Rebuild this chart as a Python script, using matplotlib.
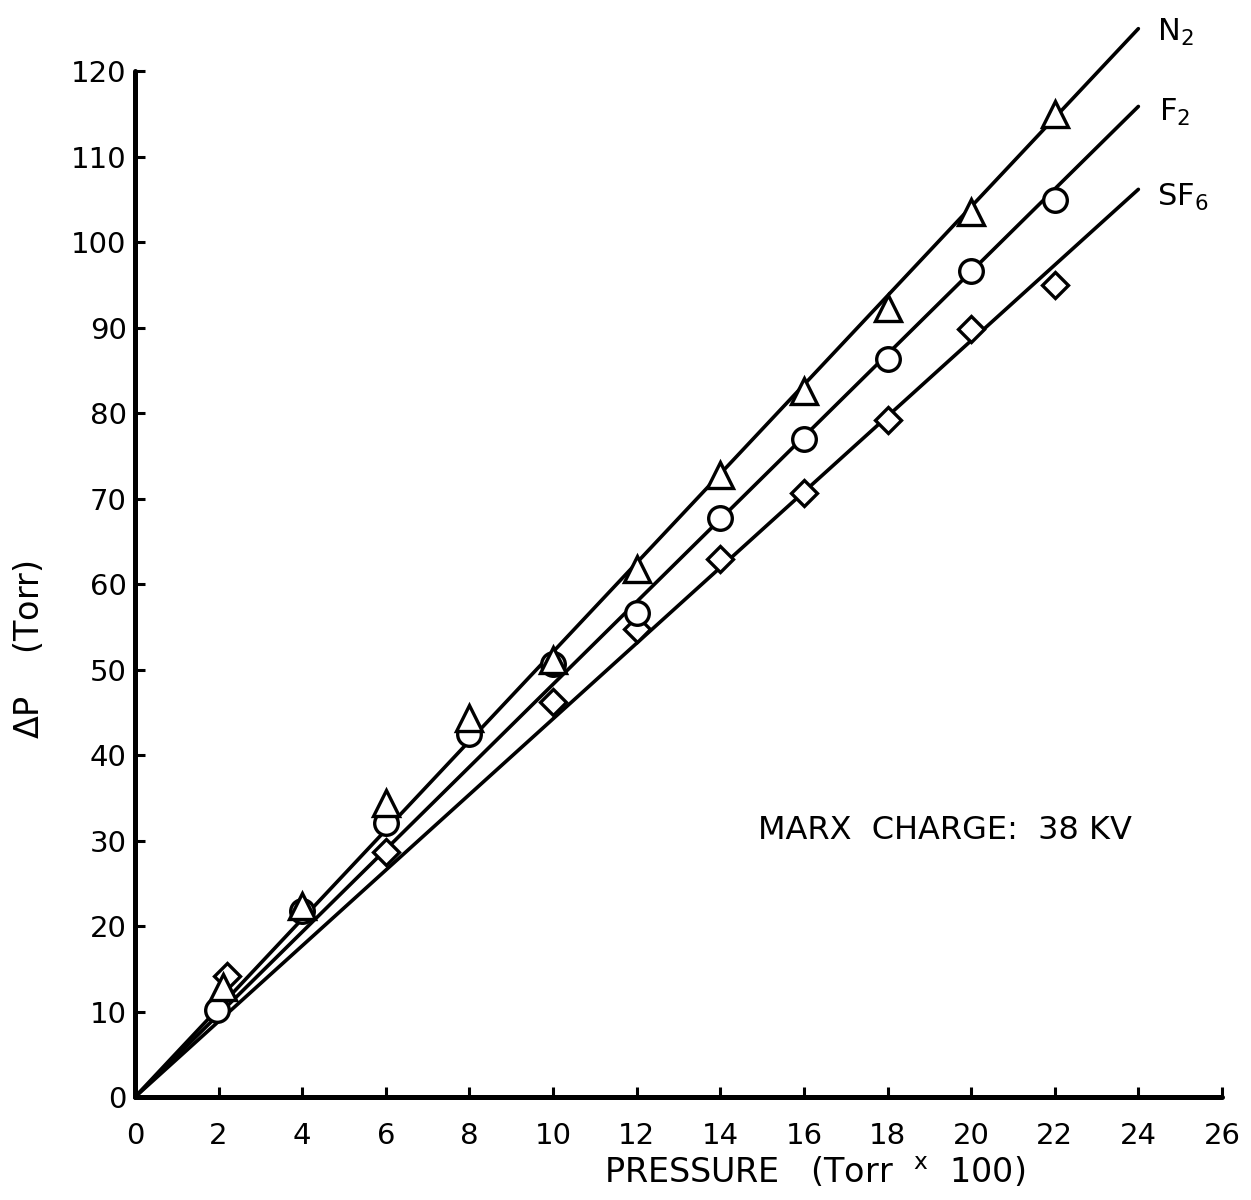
import matplotlib
matplotlib.use("Agg")
import matplotlib.pyplot as plt

# ---- data ----
x_ticks = [0, 2, 4, 6, 8, 10, 12, 14, 16, 18, 20, 22, 24, 26]
y_ticks = [0, 10, 20, 30, 40, 50, 60, 70, 80, 90, 100, 110, 120]

n2_x = [2.1, 4, 6, 8, 10, 12, 14, 16, 18, 20, 22]
n2_y = [12.9, 22.3, 34.4, 44.4, 51.1, 61.8, 72.8, 82.6, 92.3, 103.5, 115.0]

f2_x = [1.95, 4, 6, 8, 10, 12, 14, 16, 18, 20, 22]
f2_y = [10.2, 21.8, 32.1, 42.5, 50.7, 56.6, 67.8, 77.0, 86.4, 96.7, 104.9]

sf6_x = [2.2, 6, 10, 12, 14, 16, 18, 20, 22]
sf6_y = [14.2, 28.7, 46.2, 54.8, 63.0, 70.7, 79.2, 89.9, 95.0]

fit_x = [0, 24]
n2_fit = [0, 125.0]
f2_fit = [0, 115.9]
sf6_fit = [0, 106.2]

series_labels = [r"N$_{\mathsf{2}}$", r"F$_{\mathsf{2}}$", r"SF$_{\mathsf{6}}$"]

plt.rcParams['font.family'] = ['DejaVu Sans']
plt.rcParams['mathtext.fontset'] = 'dejavusans'

fig = plt.figure(figsize=(12.51, 12.0), dpi=100)
ax = fig.add_axes([0.1079, 0.0858, 0.9768 - 0.1079, 0.9405 - 0.0858])

lw = 2.6
for fx, fy in [(fit_x, n2_fit), (fit_x, f2_fit), (fit_x, sf6_fit)]:
    ax.plot(fx, fy, color='black', lw=lw, solid_capstyle='round', clip_on=False, zorder=2)

mk = dict(color='black', markerfacecolor='white', markeredgecolor='black',
          markeredgewidth=2.4, linestyle='none', clip_on=False, zorder=3)
ax.plot(sf6_x, sf6_y, marker='D', markersize=13, **mk)
ax.plot(f2_x, f2_y, marker='o', markersize=17, **mk)
ax.plot(n2_x, n2_y, marker='^', markersize=19, **mk)

ax.set_xlim(0, 26)
ax.set_ylim(0, 120)
ax.set_xticks(x_ticks)
ax.set_yticks(y_ticks)
ax.set_xticklabels([str(v) for v in x_ticks])
ax.set_yticklabels([str(v) for v in y_ticks])

for s in ['top', 'right']:
    ax.spines[s].set_visible(False)
for s in ['left', 'bottom']:
    ax.spines[s].set_linewidth(3.6)
    ax.spines[s].set_capstyle('round')

ax.tick_params(axis='both', direction='in', length=7, width=2.2, labelsize=21)
ax.tick_params(axis='x', pad=18)
ax.tick_params(axis='y', pad=6)

ax.set_xlabel(r"PRESSURE   (Torr  $^{\mathsf{x}}$  100)", fontsize=24)
ax.xaxis.set_label_coords(0.625, -0.057)
ax.set_ylabel(r"$\Delta$P    (Torr)", fontsize=24)
ax.yaxis.set_label_coords(-0.082, 0.436)

# series labels at line ends
label_pos = [(24.45, 124.6), (24.5, 115.2), (24.45, 105.3)]
for (lx, ly), txt in zip(label_pos, series_labels):
    ax.text(lx, ly, txt, fontsize=22, ha='left', va='center', clip_on=False)

ax.text(14.9, 31.2, "MARX  CHARGE:  38 KV", fontsize=23, ha='left', va='center')

fig.savefig("out.png", dpi=100, facecolor='white')
